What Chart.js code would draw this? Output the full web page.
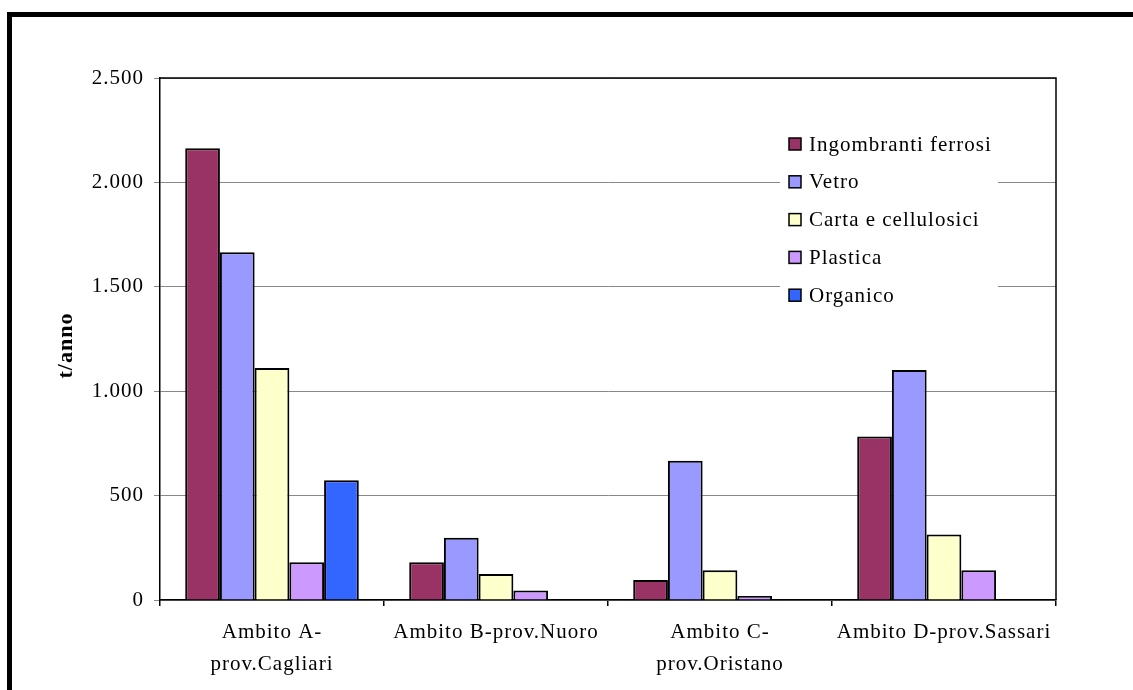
<!DOCTYPE html>
<html>
<head>
<meta charset="utf-8">
<script src="https://cdn.jsdelivr.net/npm/chart.js@4.4.1/dist/chart.umd.min.js"></script>
<style>
  html, body { margin: 0; padding: 0; background: #fff; }
  #frame { position: absolute; left: 7px; top: 12px; width: 1300px; height: 900px; border: 5px solid #000; box-sizing: border-box; }
  #chart { position: absolute; left: 0; top: 0; }
</style>
</head>
<body>
<div id="frame"></div>
<canvas id="chart" width="1133" height="690"></canvas>
<script>
// categorie (ambiti)
const categories = [['Ambito A-', 'prov.Cagliari'], 'Ambito B-prov.Nuoro', ['Ambito C-', 'prov.Oristano'], 'Ambito D-prov.Sassari'];

// serie (t/anno)
const seriesNames = ['Ingombranti ferrosi', 'Vetro', 'Carta e cellulosici', 'Plastica', 'Organico'];
const ingombranti = [2163, 181, 96, 783];
const vetro = [1665, 298, 667, 1101];
const carta = [1111, 124, 142, 314];
const plastica = [181, 46, 19, 142];
const organico = [573, null, null, null];
const seriesColors = ['#993366', '#9999FF', '#FFFFCC', '#CC99FF', '#3366FF'];

// asse y
const yMax = 2500;
const yStep = 500;

const FONT = '"Liberation Serif", "Times New Roman", serif';

function formatIt(v) {
    return String(v).replace(/\B(?=(\d{3})+(?!\d))/g, '.');
}

// spaziatura lettere come nell'originale
const spacing = {
    id: 'spacing',
    beforeLayout(chart) { chart.ctx.letterSpacing = '1px'; },
    beforeDraw(chart) { chart.ctx.letterSpacing = '1px'; }
};

// bordo area grafico + legenda interna
const legendBox = {
    id: 'legendBox',
    afterDatasetsDraw(chart) {
        const ctx = chart.ctx;
        const a = chart.chartArea;
        ctx.save();
        ctx.strokeStyle = '#000';
        ctx.lineWidth = 1.5;
        ctx.beginPath();
        ctx.moveTo(a.left, a.top);
        ctx.lineTo(a.right, a.top);
        ctx.lineTo(a.right, a.bottom);
        ctx.stroke();

        // legenda
        ctx.fillStyle = '#fff';
        ctx.fillRect(780, 124, 218, 190);
        ctx.font = '21px ' + FONT;
        ctx.textBaseline = 'middle';
        ctx.textAlign = 'left';
        chart.data.datasets.forEach((ds, i) => {
            const y = 144 + i * 37.8;
            ctx.fillStyle = ds.backgroundColor;
            ctx.fillRect(789, y - 6, 12, 12);
            ctx.strokeStyle = '#000';
            ctx.lineWidth = 1.5;
            ctx.strokeRect(789, y - 6, 12, 12);
            ctx.fillStyle = '#000';
            ctx.fillText(ds.label, 809, y + 1);
        });
        ctx.restore();
    }
};

const seriesData = [ingombranti, vetro, carta, plastica, organico];

new Chart(document.getElementById('chart'), {
    type: 'bar',
    data: {
        labels: categories,
        datasets: seriesNames.map((name, i) => ({
            label: name,
            data: seriesData[i],
            backgroundColor: seriesColors[i],
            borderColor: '#000',
            borderWidth: 2,
            categoryPercentage: 0.775,
            barPercentage: 1
        }))
    },
    options: {
        responsive: false,
        animation: false,
        devicePixelRatio: 1,
        color: '#000',
        layout: { padding: { left: 49, right: 77, top: 78, bottom: 0 } },
        plugins: {
            legend: { display: false },
            tooltip: { enabled: false }
        },
        scales: {
            x: {
                afterFit(scale) { scale.height = 90; },
                grid: { display: true, drawOnChartArea: false, offset: true, tickLength: 6, color: '#000', lineWidth: 1.5 },
                border: { color: '#000', width: 1.5 },
                ticks: {
                    color: '#000',
                    padding: 11,
                    maxRotation: 0,
                    autoSkip: false,
                    font: { family: FONT, size: 21, lineHeight: 1.5 }
                }
            },
            y: {
                min: 0,
                max: yMax,
                afterFit(scale) { scale.width = 111; },
                grid: { color: '#888', tickLength: 6, tickColor: '#888', lineWidth: 1 },
                border: { color: '#000', width: 1.5 },
                ticks: {
                    stepSize: yStep,
                    color: '#000',
                    padding: 10,
                    font: { family: FONT, size: 21 },
                    callback: v => formatIt(v)
                },
                title: {
                    display: true,
                    text: 't/anno  ',
                    color: '#000',
                    font: { family: FONT, size: 22, weight: 'bold' }
                }
            }
        }
    },
    plugins: [spacing, legendBox]
});
</script>
</body>
</html>
